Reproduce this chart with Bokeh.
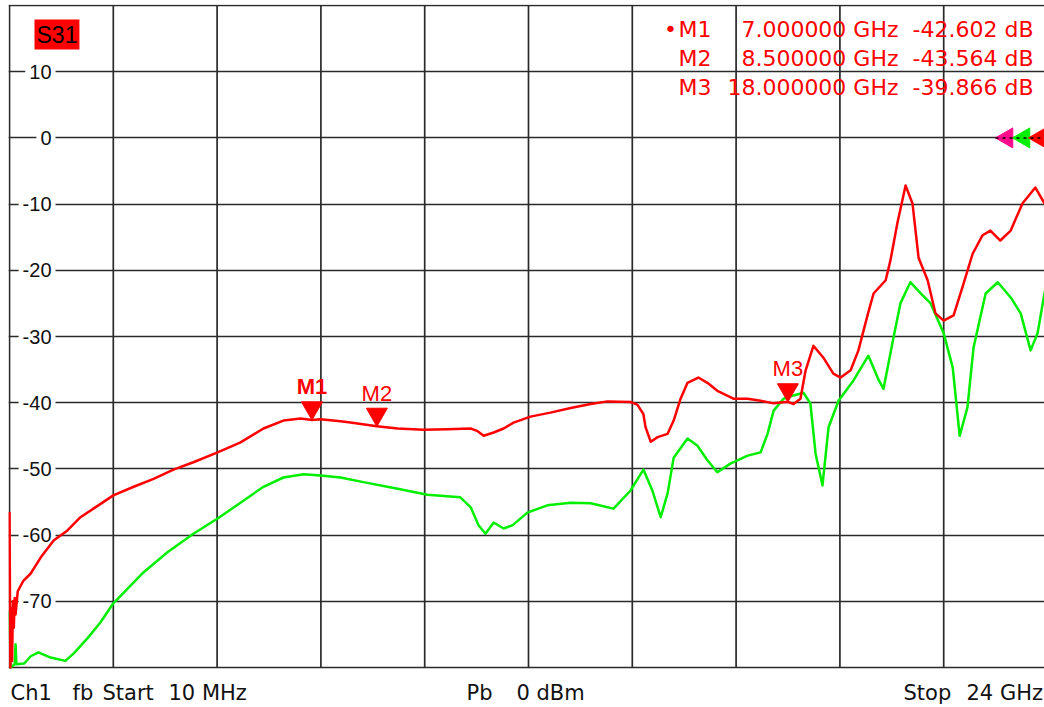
import numpy as np
from bokeh.plotting import figure
from bokeh.models import Range1d, FixedTicker, Grid, ColumnDataSource
from bokeh.core.properties import value
from bokeh.transform import dodge
from bokeh.embed import file_html
from bokeh.resources import INLINE

# ---------------- data ----------------
START_GHZ = 0.01
STOP_GHZ = 24.0
Y_MIN, Y_MAX = -80, 20
y_grid_vals = [20, 10, 0, -10, -20, -30, -40, -50, -60, -70, -80]
y_label_vals = [10, 0, -10, -20, -30, -40, -50, -60, -70]
y_label_text = ["10", "0", "-10", "-20", "-30", "-40", "-50", "-60", "-70"]

red_ghz = [
    0.01, 0.03, 0.05, 0.07, 0.09, 0.11, 0.13, 0.15, 0.20, 0.33,
    0.50, 0.73, 1.03, 1.35, 1.65, 1.95, 2.41, 2.88, 3.34, 3.80,
    4.26, 4.82, 5.35, 5.88, 6.34, 6.74, 7.00, 7.20, 7.66, 7.89,
    8.50, 8.98, 9.58, 10.13, 10.67, 10.83, 10.97, 11.20, 11.43, 11.66,
    12.05, 12.51, 12.98, 13.44, 13.83, 14.36, 14.52, 14.66, 14.71, 14.83,
    14.99, 15.22, 15.36, 15.52, 15.68, 15.93, 16.14, 16.37, 16.74, 17.07,
    17.37, 17.67, 18.00, 18.13, 18.29, 18.41, 18.59, 18.82, 19.05, 19.22,
    19.45, 19.63, 19.84, 19.98, 20.26, 20.37, 20.53, 20.72, 20.88, 21.02,
    21.23, 21.41, 21.60, 21.83, 22.06, 22.27, 22.50, 22.68, 22.91, 23.15,
    23.42, 23.72, 23.93, 24.00]
red_db = [
    -56.5, -80.0, -71.0, -79.0, -70.0, -74.0, -69.5, -72.0, -68.5, -66.9,
    -65.8, -63.4, -60.8, -59.3, -57.3, -56.0, -54.0, -52.7, -51.5, -50.1,
    -49.0, -47.5, -46.0, -43.9, -42.7, -42.4, -42.6, -42.5, -42.8, -43.0,
    -43.56, -43.9, -44.1, -44.0, -43.9, -44.3, -45.0, -44.5, -43.9, -43.0,
    -42.1, -41.5, -40.8, -40.2, -39.8, -39.9, -40.3, -41.7, -43.7, -45.9,
    -45.2, -44.7, -42.7, -39.4, -37.0, -36.2, -37.0, -38.2, -39.4, -39.4,
    -39.7, -40.1, -39.87, -40.2, -39.4, -35.1, -31.4, -33.2, -35.6, -36.2,
    -35.1, -32.1, -26.8, -23.5, -21.5, -18.5, -12.9, -7.2, -9.9, -18.1,
    -21.5, -26.5, -27.6, -26.8, -22.0, -17.5, -14.7, -14.0, -15.5, -14.0,
    -9.9, -7.5, -9.9, -10.5]

green_ghz = [
    0.01, 0.035, 0.13, 0.15, 0.17, 0.35, 0.50, 0.68, 0.96, 1.30,
    1.49, 1.81, 2.11, 2.41, 2.74, 3.11, 3.66, 4.26, 4.82, 5.35,
    5.88, 6.34, 6.81, 7.20, 7.66, 8.19, 8.98, 9.67, 10.43, 10.67,
    10.85, 11.01, 11.20, 11.43, 11.64, 11.98, 12.44, 12.98, 13.44, 13.97,
    14.36, 14.66, 14.87, 15.06, 15.22, 15.36, 15.68, 15.91, 16.14, 16.37,
    16.67, 17.07, 17.37, 17.53, 17.67, 17.90, 18.13, 18.36, 18.52, 18.64,
    18.80, 18.94, 19.17, 19.52, 19.86, 20.10, 20.21, 20.44, 20.60, 20.83,
    21.07, 21.30, 21.60, 21.81, 21.97, 22.15, 22.29, 22.57, 22.85, 23.15,
    23.38, 23.61, 23.77, 23.93, 24.00]
green_db = [
    -71.5, -80.0, -79.5, -76.5, -79.5, -79.4, -78.3, -77.7, -78.5, -79.0,
    -77.9, -75.6, -73.2, -70.3, -68.1, -65.6, -62.6, -59.8, -57.5, -55.1,
    -52.7, -51.3, -50.8, -51.0, -51.3, -52.0, -53.0, -53.9, -54.3, -55.8,
    -58.5, -59.8, -58.1, -59.0, -58.5, -56.6, -55.5, -55.1, -55.2, -56.0,
    -53.3, -50.1, -53.3, -57.3, -53.7, -48.3, -45.4, -46.5, -48.7, -50.5,
    -49.2, -48.0, -47.5, -44.7, -41.2, -39.4, -38.9, -38.5, -40.1, -47.7,
    -52.5, -43.7, -39.7, -36.6, -32.9, -36.6, -37.9, -30.2, -25.0, -21.8,
    -23.5, -25.0, -29.5, -34.7, -45.0, -40.7, -31.7, -23.5, -21.8, -24.1,
    -26.5, -32.1, -29.5, -23.5, -21.5]

assert len(red_ghz) == len(red_db)
assert len(green_ghz) == len(green_db)

marker_names = ["M1", "M2", "M3"]
marker_ghz = [7.0, 8.5, 18.0]
marker_db = [-42.602, -43.564, -39.866]
active_marker = 0

ref_level_db = 0
ref_colors = ["#ff0a8c", "#00f000", "#ff0000"]

trace_name = "S31"
info_texts = ["Ch1", "fb", "Start", "10 MHz", "Pb", "0 dBm", "Stop", "24 GHz"]

# ---------------- layout (pixels) ----------------
W, H = 1044, 707
LEFT, TOP, BOTTOM = 9, 5, 667          # plot-area edges on the page
PX_PER_GHZ = 1038 / (STOP_GHZ - START_GHZ)
PX_PER_DB = (BOTTOM - TOP) / (Y_MAX - Y_MIN)

x_lo = START_GHZ - 1 / PX_PER_GHZ
x_hi = START_GHZ + (W - LEFT) / PX_PER_GHZ
y_hi = Y_MAX + 1 / PX_PER_DB
y_lo = Y_MAX - (H - TOP) / PX_PER_DB


def ghz_at(page_x):
    return START_GHZ + (page_x - LEFT) / PX_PER_GHZ


RED = "#ff0000"
GREEN = "#00ee00"
GRID = "#2a2a2a"
FONT = "DejaVu Sans"

p = figure(width=W, height=H,
           x_range=Range1d(x_lo, x_hi), y_range=Range1d(y_lo, y_hi),
           x_axis_location=None, y_axis_location=None,
           output_backend="svg", toolbar_location=None,
           min_border_left=LEFT - 1, min_border_right=0, min_border_top=TOP - 1,
           min_border_bottom=0)
p.outline_line_color = None
p.background_fill_color = "white"
p.border_fill_color = "white"
p.grid.visible = False

# horizontal grid (full width) and vertical grid (limited to the dB span)
p.add_layout(Grid(dimension=1, ticker=FixedTicker(ticks=y_grid_vals),
                  grid_line_color=GRID, grid_line_width=1.7), "center")
grid_x = list(np.linspace(START_GHZ, STOP_GHZ, 11))
p.segment(x0=grid_x, y0=[Y_MIN] * len(grid_x), x1=grid_x, y1=[Y_MAX] * len(grid_x),
          line_color=GRID, line_width=1.7)

# y tick labels inside the plot area, white background breaking the grid line
p.text(x=[START_GHZ] * len(y_label_vals), y=y_label_vals, text=y_label_text,
       x_offset=46, text_align="right", text_baseline="middle",
       text_font=value("Liberation Sans"), text_font_size="20px",
       text_color="#111111", background_fill_color="white", padding=4)

# traces
p.line(green_ghz, green_db, line_color=GREEN, line_width=2.5, line_join="round")
p.line(red_ghz, red_db, line_color=RED, line_width=2.5, line_join="round")

# markers
msrc = ColumnDataSource(dict(
    f=marker_ghz, db=marker_db, name=marker_names,
    style=["bold" if i == active_marker else "normal" for i in range(len(marker_names))]))
p.scatter("f", dodge("db", 12 / PX_PER_DB), source=msrc, marker="inverted_triangle",
          size=21, fill_color=RED, line_color=RED)
p.text("f", "db", text="name", source=msrc, text_align="center",
       text_baseline="middle", y_offset=-33,
       text_font=value("Liberation Sans"), text_font_size="22px",
       text_font_style="style", text_color=RED)

# reference level indicators at the right edge
ref_px = [1006.5, 1023.5, 1039.5]
p.scatter([ghz_at(v) for v in ref_px], [ref_level_db] * 3, marker="triangle",
          angle=np.pi / 2, size=20, fill_color=ref_colors, line_color=ref_colors)
p.line([ghz_at(995), x_hi], [ref_level_db, ref_level_db], line_dash="3 4",
       line_color="black", line_width=1.5)


def put(txt, dx, dy, color, size="22px", align="left", font=FONT, **kw):
    """Text anchored to the plot area's top-left corner (Start, top level)."""
    p.text(x=[START_GHZ], y=[Y_MAX], text=[txt], x_offset=dx, y_offset=dy,
           text_align=align, text_baseline="middle", text_font=value(font),
           text_font_size=size, text_color=color, **kw)


# trace name box
put(trace_name, 25, 29, "black", size="23px",
    font="Liberation Sans", background_fill_color=RED, padding=2)

# marker table
for i, (n, f, d) in enumerate(zip(marker_names, marker_ghz, marker_db)):
    dy = 24 + 29 * i
    put(n, 669, dy, RED)
    put(f"{f:.6f} GHz", 889, dy, RED, align="right")
    put(f"{d:.3f} dB", 1024, dy, RED, align="right")
    if i == active_marker:
        put("\u2022", 661, dy, RED, align="center")

# bottom status line
for txt, dx in zip(info_texts, [1, 63, 93, 159, 457, 507, 894, 957]):
    put(txt, dx, 687, "#111111", size="21px")

open("out.html", "w").write(file_html(p, INLINE))
